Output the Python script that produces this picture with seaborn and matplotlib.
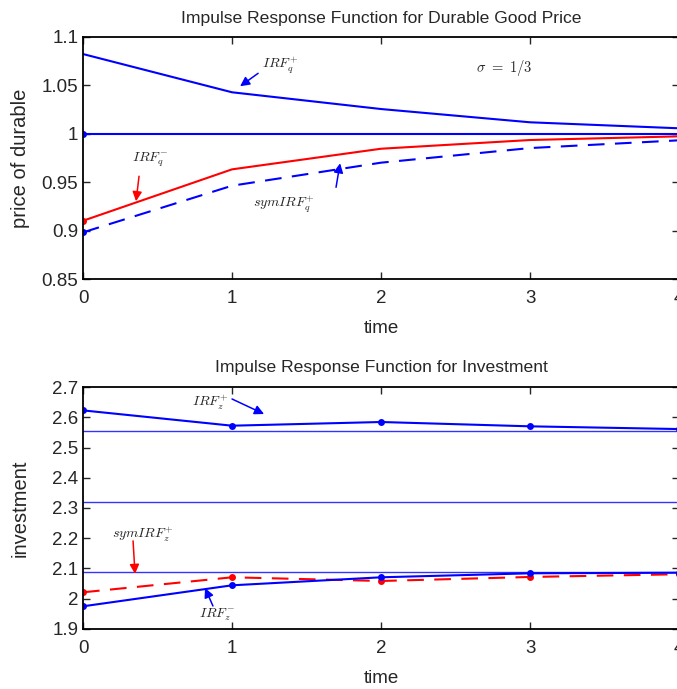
import numpy as np
import pandas as pd
import matplotlib
matplotlib.use("Agg")
import matplotlib.pyplot as plt
import seaborn as sns

# data
time = [0, 1, 2, 3, 4]

irf_q_pos = [1.0824, 1.0429, 1.0256, 1.0119, 1.0057]
steady_q = [1.0, 1.0, 1.0, 1.0, 1.0]
irf_q_neg = [0.9102, 0.9633, 0.9846, 0.9936, 0.9974]
sym_irf_q_pos = [0.8982, 0.9464, 0.9702, 0.9853, 0.9933]

irf_z_pos = [2.6227, 2.5721, 2.5843, 2.5700, 2.5610]
sym_irf_z_pos = [2.0213, 2.0709, 2.0587, 2.0720, 2.0810]
irf_z_neg = [1.9750, 2.0444, 2.0709, 2.0841, 2.0860]
z_levels = [2.5559, 2.3208, 2.0894]

sns.set_style("ticks")
plt.rcParams['font.family'] = ['Liberation Sans', 'DejaVu Sans']
plt.rcParams['mathtext.fontset'] = 'cm'
plt.rcParams['xtick.direction'] = 'in'
plt.rcParams['ytick.direction'] = 'in'
plt.rcParams['axes.edgecolor'] = 'black'
plt.rcParams['axes.linewidth'] = 1.3

fig = plt.figure(figsize=(6.77, 6.89), dpi=100)
ax1 = fig.add_axes([0.1226, 0.595, 0.8805, 0.3513])
ax2 = fig.add_axes([0.1226, 0.0871, 0.8805, 0.3512])

df_q = pd.DataFrame({"time": time, "pos": irf_q_pos, "ss": steady_q,
                     "neg": irf_q_neg, "sym": sym_irf_q_pos})
df_z = pd.DataFrame({"time": time, "pos": irf_z_pos,
                     "sym": sym_irf_z_pos, "neg": irf_z_neg})

blue = "#0000ff"
red = "#ff0000"
dash = (0, (8, 5))
ms = 5

# top panel
sns.lineplot(data=df_q, x="time", y="pos", ax=ax1, color=blue, lw=1.5)
sns.lineplot(data=df_q, x="time", y="ss", ax=ax1, color=blue, lw=1.5,
             marker="o", markersize=ms, markeredgewidth=0, markevery=[0])
sns.lineplot(data=df_q, x="time", y="neg", ax=ax1, color=red, lw=1.5,
             marker="o", markersize=ms, markeredgewidth=0, markevery=[0])
sns.lineplot(data=df_q, x="time", y="sym", ax=ax1, color=blue, lw=1.5,
             linestyle=dash, marker="o", markersize=ms,
             markeredgewidth=0, markevery=[0])

ax1.set_xlim(0, 4)
ax1.set_ylim(0.85, 1.1)
ax1.set_xticks([0, 1, 2, 3, 4])
ax1.set_yticks([0.85, 0.9, 0.95, 1.0, 1.05, 1.1])
ax1.set_yticklabels(["0.85", "0.9", "0.95", "1", "1.05", "1.1"])
ax1.set_title("Impulse Response Function for Durable Good Price", fontsize=12.6, pad=10)
ax1.set_xlabel("time", fontsize=13.5, labelpad=9)
ax1.set_ylabel("price of durable", fontsize=14.5, labelpad=8)

arr = dict(arrowstyle="-|>", lw=1.1, mutation_scale=14, shrinkA=0, shrinkB=0)
ax1.annotate("", xy=(1.054, 1.0491), xytext=(1.175, 1.0625),
             arrowprops=dict(arr, color=blue))
ax1.text(1.32, 1.0705, r"$IRF_q^{+}$", fontsize=10, ha="center", va="center")
ax1.annotate("", xy=(0.356, 0.9304), xytext=(0.376, 0.9562),
             arrowprops=dict(arr, color=red))
ax1.text(0.45, 0.9728, r"$IRF_q^{-}$", fontsize=10, ha="center", va="center")
ax1.annotate("", xy=(1.725, 0.9696), xytext=(1.698, 0.9448),
             arrowprops=dict(arr, color=blue))
ax1.text(1.35, 0.9268, r"$symIRF_q^{+}$", fontsize=10, ha="center", va="center")
ax1.text(2.83, 1.0684, r"$\sigma\ =\ 1/3$", fontsize=10.5, ha="center", va="center")

# bottom panel
for lvl in z_levels:
    ax2.axhline(lvl, color="#3333ff", lw=1.0)
sns.lineplot(data=df_z, x="time", y="pos", ax=ax2, color=blue, lw=1.5,
             marker="o", markersize=ms, markeredgewidth=0)
sns.lineplot(data=df_z, x="time", y="sym", ax=ax2, color=red, lw=1.5,
             linestyle=dash, marker="o", markersize=ms, markeredgewidth=0)
sns.lineplot(data=df_z, x="time", y="neg", ax=ax2, color=blue, lw=1.5,
             marker="o", markersize=ms, markeredgewidth=0)

ax2.set_xlim(0, 4)
ax2.set_ylim(1.9, 2.7)
ax2.set_xticks([0, 1, 2, 3, 4])
ax2.set_yticks([1.9, 2.0, 2.1, 2.2, 2.3, 2.4, 2.5, 2.6, 2.7])
ax2.set_yticklabels(["1.9", "2", "2.1", "2.2", "2.3", "2.4", "2.5", "2.6", "2.7"])
ax2.set_title("Impulse Response Function for Investment", fontsize=12.6, pad=11)
ax2.set_xlabel("time", fontsize=13.5, labelpad=9)
ax2.set_ylabel("investment", fontsize=14.5, labelpad=16)

ax2.annotate("", xy=(1.215, 2.6107), xytext=(1.0, 2.6604),
             arrowprops=dict(arr, color=blue))
ax2.text(0.85, 2.6480, r"$IRF_z^{+}$", fontsize=10, ha="center", va="center")
ax2.annotate("", xy=(0.349, 2.0820), xytext=(0.336, 2.1912),
             arrowprops=dict(arr, color=red))
ax2.text(0.402, 2.2120, r"$symIRF_z^{+}$", fontsize=10, ha="center", va="center")
ax2.annotate("", xy=(0.819, 2.0355), xytext=(0.872, 1.9760),
             arrowprops=dict(arr, color=blue))
ax2.text(0.90, 1.9480, r"$IRF_z^{-}$", fontsize=10, ha="center", va="center")

for ax in (ax1, ax2):
    ax.tick_params(axis="both", labelsize=13.5, length=5, width=1, top=True, right=True)
    ax.tick_params(axis="x", pad=8)
    for s in ("top", "right"):
        ax.spines[s].set_visible(True)

fig.savefig("out.png", dpi=100)
